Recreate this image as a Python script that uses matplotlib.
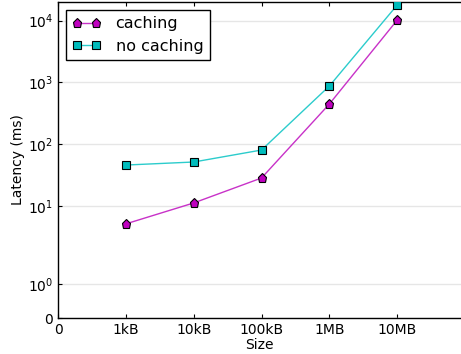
import numpy as np
import matplotlib
matplotlib.use('Agg')
import matplotlib.pyplot as plt

# data
sizes = ['1kB', '10kB', '100kB', '1MB', '10MB']
caching = [5.9, 11.2, 28.4, 447, 10200]
no_caching = [46, 51.5, 80.5, 875, 17900]

# the y axis is log-like, but the 1..10 decade is stretched and 0 sits below it
k1 = 78 / 61.8
k0 = 34 / 61.8

def forward(y):
    y = np.asarray(y, dtype=float)
    ly = np.log10(np.clip(y, 1e-12, None))
    return np.where(y >= 10, ly,
           np.where(y >= 1, 1 - (1 - ly) * k1,
                    (1 - k1) - (1 - y) * k0))

def inverse(u):
    u = np.asarray(u, dtype=float)
    return np.where(u >= 1, 10 ** u,
           np.where(u >= 1 - k1, 10 ** (1 - (1 - u) / k1),
                    1 - ((1 - k1) - u) / k0))

plt.rcParams['font.family'] = 'DejaVu Sans'
fig = plt.figure(figsize=(4.61, 3.54), dpi=100)
ax = fig.add_axes([58 / 461, 1 - 318 / 354, 1 - 58 / 461, 316 / 354])

x = np.arange(1, len(sizes) + 1)
ax.plot(x, caching, color='#c832c8', lw=1, marker='p', ms=6.5,
        mfc='#bf00bf', mec='black', mew=0.8, label='caching', zorder=3)
ax.plot(x, no_caching, color='#2ccccc', lw=1, marker='s', ms=6,
        mfc='#00bcbc', mec='black', mew=0.8, label='no caching', zorder=3)

ax.set_yscale('function', functions=(forward, inverse))
ax.set_ylim(0, 20000)
ax.set_xlim(0, 5.94)

yt = [0, 1, 10, 100, 1000, 10000]
ax.set_yticks(yt)
ax.set_yticklabels(['0', '$10^{0}$', '$10^{1}$', '$10^{2}$', '$10^{3}$', '$10^{4}$'])
ax.minorticks_off()
ax.set_xticks(range(0, 6))
ax.set_xticklabels(['0'] + sizes)

ax.grid(axis='y', color='#e6e6e6', lw=1)
ax.set_axisbelow(True)
ax.tick_params(direction='in', labelsize=10, length=3, width=0.8, top=True)
ax.spines['right'].set_visible(False)
for s in ['left', 'bottom', 'top']:
    ax.spines[s].set_linewidth(1)

ax.set_xlabel('Size', fontsize=10, labelpad=1)
ax.set_ylabel('Latency (ms)', fontsize=10, labelpad=2)

leg = ax.legend(loc='upper left', fontsize=11.5, fancybox=False,
                edgecolor='black', framealpha=1, borderaxespad=0.5,
                handlelength=1.8, handletextpad=0.9, labelspacing=0.45,
                numpoints=2)
leg.get_frame().set_linewidth(1)

fig.savefig('out.png', dpi=100)
